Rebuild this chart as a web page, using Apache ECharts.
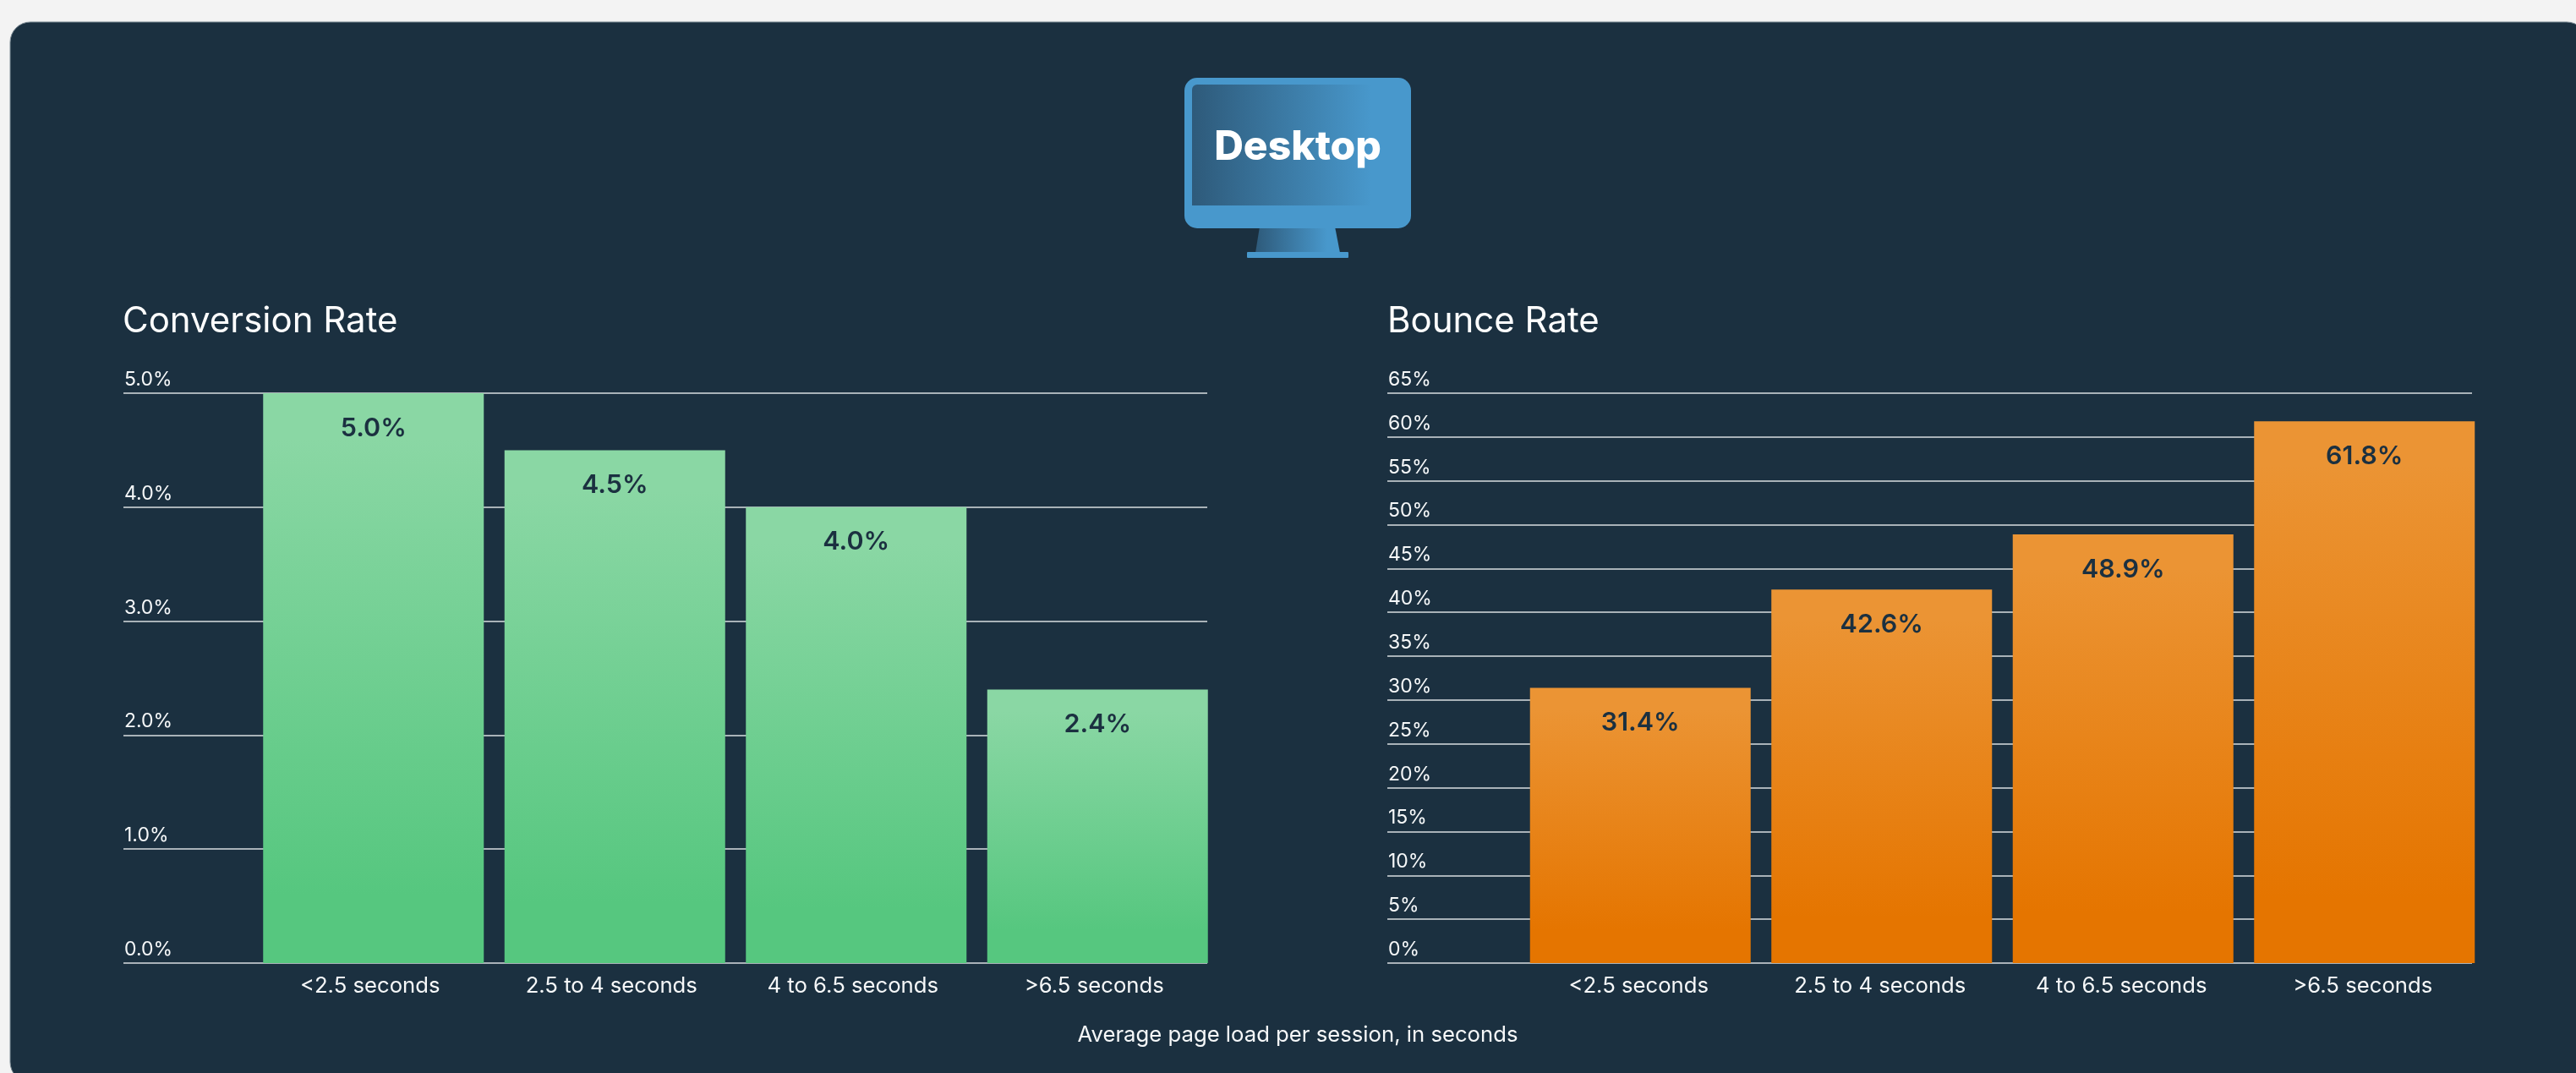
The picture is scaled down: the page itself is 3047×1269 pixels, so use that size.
<!DOCTYPE html>
<html>
<head>
<meta charset="utf-8">
<title>Desktop page speed</title>
<style>
  html, body { margin: 0; padding: 0; background: #f3f3f3; }
  #chart { width: 3047px; height: 1269px; }
</style>
<script src="https://cdn.jsdelivr.net/npm/echarts@6/dist/echarts.min.js"></script>
</head>
<body>
<div id="chart"></div>
<script>
// Load-time buckets shared by both panels
const loadBuckets = ['<2.5 seconds', '2.5 to 4 seconds', '4 to 6.5 seconds', '>6.5 seconds'];
const conversionRate = [5.0, 4.5, 4.0, 2.4];
const bounceRate = [31.4, 42.6, 48.9, 61.8];
const conversionAxis = { max: 5, interval: 1, decimals: 1 };
const bounceAxis = { max: 65, interval: 5, decimals: 0 };

const NAVY = '#1b3040';
const GRID_LINE = '#a9b2b8';
const TEXT = '#f6f8f9';
const FONT = 'Inter';
const TOP = 465, BOTTOM = 1269 - 1139;

const vGradient = (top, bottom) => ({
  type: 'linear', x: 0, y: 0, x2: 0, y2: 1,
  colorStops: [{ offset: 0.08, color: top }, { offset: 0.88, color: bottom }]
});
const hGradient = (stops) => ({
  type: 'linear', x: 0, y: 0, x2: 1, y2: 0,
  colorStops: stops
});

// Each panel uses two grids: a wide one for the rules and value labels,
// and a narrower one that holds the bars and the category labels.
function panel(index, conf) {
  const ruleGrid = index * 2, barGrid = index * 2 + 1;
  return {
    grids: [
      { left: conf.ruleLeft, width: conf.ruleRight - conf.ruleLeft, top: TOP, bottom: BOTTOM },
      { left: conf.barLeft, width: conf.pitch * 4, top: TOP, bottom: BOTTOM }
    ],
    xAxes: [
      { type: 'category', gridIndex: ruleGrid, data: loadBuckets, show: false },
      {
        type: 'category', gridIndex: barGrid, data: loadBuckets,
        axisLine: { show: false }, axisTick: { show: false },
        axisLabel: {
          color: TEXT, fontFamily: FONT, fontSize: 25.7, margin: 14, interval: 0,
          padding: [0, conf.labelNudge, 0, 0]
        }
      }
    ],
    yAxes: [
      {
        type: 'value', gridIndex: ruleGrid, min: 0, max: conf.axis.max, interval: conf.axis.interval,
        axisLine: { show: false }, axisTick: { show: false },
        splitLine: { show: true, lineStyle: { color: GRID_LINE, width: 2 } },
        axisLabel: {
          inside: true, margin: 1, color: TEXT, fontFamily: FONT, fontSize: 23,
          verticalAlign: 'bottom', lineHeight: 32,
          formatter: (v) => v.toFixed(conf.axis.decimals) + '%'
        }
      },
      {
        type: 'value', gridIndex: barGrid, min: 0, max: conf.axis.max, interval: conf.axis.interval,
        show: false, splitLine: { show: false }
      }
    ],
    series: [{
      type: 'bar', xAxisIndex: barGrid, yAxisIndex: barGrid, data: conf.values,
      barWidth: 261, z: 3,
      itemStyle: { color: vGradient(conf.top, conf.bottom) },
      label: {
        show: true, position: 'insideTop', distance: 26,
        color: NAVY, fontFamily: FONT, fontWeight: 600, fontSize: 30.5,
        formatter: (p) => p.value.toFixed(1) + '%'
      }
    }]
  };
}

const left = panel(0, {
  ruleLeft: 146, ruleRight: 1428, barLeft: 299, pitch: 285.5, labelNudge: 8,
  axis: conversionAxis, values: conversionRate, top: '#8ad7a4', bottom: '#56c77f'
});
const right = panel(1, {
  ruleLeft: 1641, ruleRight: 2924, barLeft: 1797.5, pitch: 285.5, labelNudge: 4,
  axis: bounceAxis, values: bounceRate, top: '#eb9434', bottom: '#e57500'
});

const chartTitle = (text, x) => ({
  text, left: x, top: 354,
  textStyle: { color: '#ffffff', fontFamily: FONT, fontWeight: 400, fontSize: 42 }
});

const MONITOR_BLUE = '#4898cc';

const chart = echarts.init(document.getElementById('chart'), null, { renderer: 'canvas' });
chart.setOption({
  animation: false,
  backgroundColor: '#f3f3f3',
  title: [
    chartTitle('Conversion Rate', 140),
    chartTitle('Bounce Rate', 1636),
    {
      text: 'Average page load per session, in seconds', left: 1530, top: 1206, textAlign: 'center',
      textStyle: { color: TEXT, fontFamily: FONT, fontWeight: 400, fontSize: 25.7 }
    }
  ],
  grid: [...left.grids, ...right.grids],
  xAxis: [...left.xAxes, ...right.xAxes],
  yAxis: [...left.yAxes, ...right.yAxes],
  series: [...left.series, ...right.series],
  graphic: [
    // Dark card behind everything
    { type: 'rect', z: -10, shape: { x: 12, y: 26, width: 3048, height: 1254, r: 24 },
      style: { fill: NAVY, stroke: '#7f8d97', lineWidth: 1 } },
    // Monitor icon
    { type: 'polygon', z: 5, shape: { points: [[1490, 268], [1579, 268], [1585, 299], [1485, 299]] },
      style: { fill: hGradient([{ offset: 0, color: '#2e5a7a' }, { offset: 0.85, color: MONITOR_BLUE }]) } },
    { type: 'rect', z: 5, shape: { x: 1475, y: 298, width: 120, height: 7, r: 1 }, style: { fill: MONITOR_BLUE } },
    { type: 'rect', z: 5, shape: { x: 1401, y: 92, width: 268, height: 178, r: 15 }, style: { fill: MONITOR_BLUE } },
    { type: 'rect', z: 6, shape: { x: 1410, y: 100, width: 250, height: 143, r: [6, 0, 0, 0] },
      style: { fill: hGradient([{ offset: 0, color: '#2e5a7a' }, { offset: 0.85, color: MONITOR_BLUE }]) } },
    { type: 'text', z: 7, style: { x: 1535, y: 175, text: 'Desktop', align: 'center', verticalAlign: 'middle',
      fill: '#ffffff', font: '800 48px Inter' } }
  ]
});
</script>
</body>
</html>
